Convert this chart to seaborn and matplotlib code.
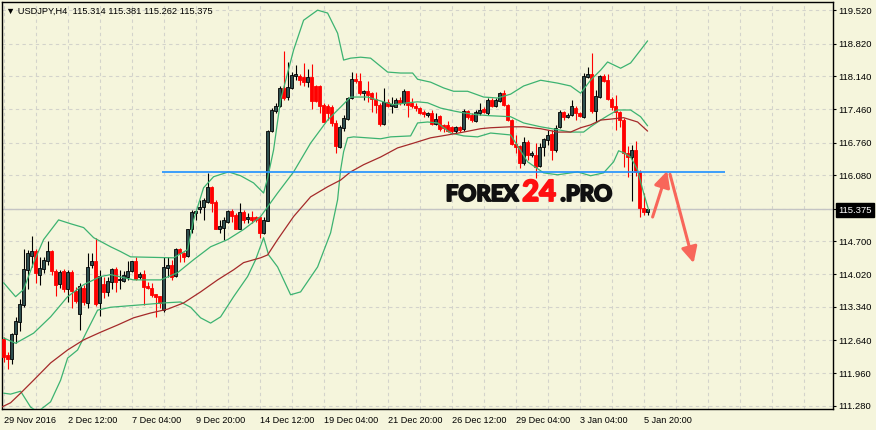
import numpy as np
import pandas as pd
import seaborn as sns
import matplotlib.pyplot as plt
import matplotlib.patheffects as pe

# ## USDJPY H4 candles, 29 Nov 2016 .. 6 Jan 2017
opens = [112.67, 112.33, 112.25, 112.77, 113.02, 113.38, 114.11, 114.40, 114.51, 114.01,
         114.13, 114.30, 114.51, 114.09, 113.82, 114.09, 113.72, 114.07, 113.67, 113.19,
         113.74, 113.42, 114.20, 114.30, 113.42, 113.82, 113.65, 113.86, 114.13, 113.90,
         113.88, 113.97, 114.09, 114.30, 113.95, 114.03, 113.78, 113.74, 113.61, 113.57,
         113.27, 114.15, 114.22, 113.99, 114.55, 114.45, 114.40, 114.95, 115.30, 115.38,
         115.42, 115.53, 115.84, 115.53, 114.97, 114.99, 115.11, 115.34, 115.26, 114.97,
         115.32, 115.17, 115.22, 115.20, 115.20, 114.88, 115.13, 117.00, 117.42, 117.53,
         117.90, 117.71, 117.90, 118.15, 118.15, 118.13, 118.02, 118.13, 117.94, 117.94,
         117.55, 117.53, 117.50, 117.17, 116.67, 117.07, 117.25, 117.69, 118.08, 118.04,
         117.79, 117.83, 117.79, 117.67, 117.55, 117.15, 117.61, 117.53, 117.50, 117.65,
         117.59, 117.83, 117.59, 117.53, 117.48, 117.40, 117.34, 117.38, 117.15, 117.32,
         117.13, 117.13, 117.09, 117.00, 117.09, 117.05, 117.42, 117.34, 117.21, 117.38,
         117.46, 117.38, 117.65, 117.53, 117.63, 117.79, 117.55, 117.23, 116.73, 116.69,
         116.34, 116.77, 116.50, 116.50, 116.27, 116.67, 116.82, 116.94, 116.61, 117.09,
         117.40, 117.30, 117.34, 117.48, 117.38, 117.30, 118.13, 118.19, 117.42, 117.71,
         118.15, 118.06, 117.67, 117.53, 117.40, 117.23, 116.55, 116.46, 116.61, 116.15,
         115.40, 115.314]
highs = [112.71, 112.40, 112.79, 113.13, 113.51, 114.55, 114.53, 114.82, 114.55, 114.38,
         114.38, 114.72, 114.53, 114.13, 114.11, 114.13, 114.11, 114.11, 113.76, 113.84,
         113.80, 114.47, 114.47, 114.78, 114.11, 113.97, 113.95, 114.15, 114.17, 114.11,
         114.09, 114.30, 114.30, 114.38, 114.07, 114.11, 113.86, 113.84, 113.61, 113.57,
         114.38, 114.38, 114.32, 114.57, 114.57, 114.49, 114.97, 115.36, 115.36, 115.57,
         115.61, 116.13, 115.86, 115.57, 115.15, 115.22, 115.36, 115.38, 115.30, 115.51,
         115.36, 115.30, 115.34, 115.24, 115.22, 115.20, 117.03, 117.48, 117.59, 117.94,
         118.67, 118.44, 118.23, 118.38, 118.19, 118.42, 118.29, 118.40, 117.96, 117.96,
         117.59, 117.57, 117.55, 117.23, 117.13, 117.34, 117.71, 118.23, 118.21, 118.21,
         117.85, 118.04, 117.81, 117.81, 117.59, 117.90, 117.67, 117.71, 117.69, 117.71,
         117.88, 117.83, 117.69, 117.59, 117.50, 117.44, 117.40, 117.44, 117.38, 117.34,
         117.15, 117.21, 117.11, 117.11, 117.11, 117.46, 117.44, 117.38, 117.44, 117.59,
         117.50, 117.69, 117.69, 117.69, 117.81, 117.85, 117.57, 117.25, 116.92, 116.71,
         116.88, 116.82, 116.59, 116.75, 116.75, 116.86, 117.03, 117.03, 117.13, 117.44,
         117.42, 117.38, 117.65, 117.53, 117.40, 118.21, 118.33, 118.63, 117.85, 118.17,
         118.19, 118.19, 117.71, 117.75, 117.42, 117.28, 116.69, 116.71, 116.80, 116.19,
         115.71, 115.381]
lows = [112.19, 112.04, 112.15, 112.58, 112.83, 113.33, 113.70, 114.17, 113.84, 113.80,
        114.05, 114.22, 114.01, 113.57, 113.74, 113.65, 113.44, 113.31, 113.42, 112.86,
        113.38, 113.31, 114.15, 113.36, 113.15, 113.53, 113.57, 113.70, 113.65, 113.70,
        113.86, 113.90, 114.07, 113.90, 113.92, 113.38, 113.70, 113.55, 113.13, 113.31,
        113.23, 113.97, 113.90, 113.95, 114.28, 114.28, 114.38, 114.88, 115.15, 115.30,
        115.15, 115.51, 115.32, 114.95, 114.88, 114.74, 115.09, 115.11, 114.95, 114.95,
        115.09, 115.09, 115.09, 115.11, 114.78, 114.86, 115.13, 116.98, 117.38, 117.50,
        117.65, 117.65, 117.88, 118.06, 117.96, 117.94, 117.92, 117.46, 117.61, 117.38,
        117.19, 117.23, 117.11, 116.55, 116.65, 117.00, 117.23, 117.67, 118.00, 117.75,
        117.65, 117.61, 117.40, 117.38, 117.11, 117.13, 117.50, 117.38, 117.50, 117.55,
        117.55, 117.30, 117.48, 117.42, 117.36, 117.30, 117.30, 117.13, 117.13, 117.00,
        116.98, 116.98, 116.96, 116.96, 116.98, 117.00, 117.25, 117.19, 117.19, 117.34,
        117.38, 117.34, 117.50, 117.50, 117.61, 117.53, 117.21, 116.71, 116.55, 116.23,
        116.30, 116.40, 116.46, 116.02, 116.25, 116.48, 116.71, 116.40, 116.57, 117.07,
        117.23, 117.28, 117.32, 117.23, 117.30, 117.28, 118.10, 117.38, 117.19, 117.69,
        118.02, 117.65, 117.44, 117.03, 117.09, 116.25, 116.05, 115.55, 116.07, 115.21,
        115.26, 115.262]
closes = [112.29, 112.25, 112.77, 113.04, 113.40, 114.13, 114.47, 114.51, 114.05, 114.15,
          114.32, 114.51, 114.09, 113.80, 114.07, 113.72, 114.07, 113.67, 113.46, 113.78,
          113.44, 114.17, 114.30, 113.40, 113.99, 113.65, 113.88, 114.13, 113.86, 113.90,
          114.01, 114.09, 114.30, 113.92, 114.03, 113.76, 113.74, 113.59, 113.55, 113.42,
          114.17, 114.20, 113.97, 114.55, 114.45, 114.38, 114.97, 115.32, 115.34, 115.42,
          115.57, 115.84, 115.51, 114.97, 115.03, 115.15, 115.34, 115.24, 114.95, 115.32,
          115.15, 115.22, 115.15, 115.15, 114.88, 115.15, 117.00, 117.44, 117.53, 117.90,
          117.69, 117.92, 118.17, 118.19, 118.06, 118.02, 118.13, 117.63, 117.63, 117.53,
          117.19, 117.38, 117.17, 116.69, 117.09, 117.28, 117.69, 118.08, 118.04, 117.79,
          117.83, 117.75, 117.67, 117.55, 117.15, 117.61, 117.53, 117.57, 117.65, 117.59,
          117.83, 117.55, 117.53, 117.48, 117.38, 117.36, 117.38, 117.15, 117.25, 117.05,
          117.07, 117.00, 117.00, 117.09, 117.03, 117.42, 117.30, 117.23, 117.40, 117.44,
          117.40, 117.65, 117.53, 117.65, 117.79, 117.55, 117.23, 116.73, 116.67, 116.34,
          116.77, 116.50, 116.55, 116.25, 116.67, 116.84, 116.92, 116.61, 117.07, 117.40,
          117.30, 117.34, 117.53, 117.38, 117.32, 118.15, 118.19, 117.42, 117.73, 118.15,
          118.04, 117.67, 117.50, 117.40, 117.23, 116.55, 116.46, 116.61, 116.15, 115.40,
          115.32, 115.375]

# Bollinger bands and moving average, sampled along the bars
ub_pos = [0, 3, 5, 7.5, 10, 13.75, 16.75, 20, 22.5, 26.75, 29.25, 31.75, 42.5, 46, 47.5,
          50, 52.5, 56.25, 59.25, 62.5, 65, 66, 67.5, 69.25, 72.5, 75, 78.5, 81, 83.5, 85,
          86.75, 89.25, 91.75, 96, 99.25, 102.25, 103.5, 106.75, 110, 112.5, 116, 120, 123.5,
          126.75, 130, 134.25, 138.5, 141.75, 144.25, 146.75, 149.25, 151, 154.25, 156.75,
          159.25, 161]
ub_val = [113.84, 113.55, 113.70, 114.26, 114.74, 115.15, 115.07, 114.99, 114.78, 114.59,
          114.49, 114.38, 114.36, 114.53, 115.15, 115.82, 116.05, 116.15, 116.07, 115.92,
          115.71, 116.02, 116.61, 117.65, 118.69, 119.31, 119.52, 119.46, 119.04, 118.48,
          118.52, 118.54, 118.52, 118.23, 118.21, 118.21, 118.08, 118.02, 117.90, 117.83,
          117.83, 117.71, 117.69, 117.77, 117.94, 118.06, 118.00, 117.94, 117.79, 118.06,
          118.27, 118.44, 118.31, 118.42, 118.69, 118.88]
mb_pos = [0, 3, 7.5, 11.75, 16, 20, 24.25, 26.75, 32.5, 39.25, 43.5, 47.5, 51.75, 56, 60,
          64.25, 68.5, 72.5, 76.75, 81, 84.25, 86.75, 91, 95, 97.5, 101, 103.5, 106, 109.25,
          112.5, 115, 118.5, 121.75, 126.75, 130, 134.25, 138.5, 141.75, 145, 146.75, 149.25,
          151, 153.5, 156.75, 159.25, 161]
mb_val = [112.69, 112.58, 112.79, 113.13, 113.55, 113.80, 113.97, 114.01, 113.90, 113.90,
          114.05, 114.32, 114.59, 114.74, 114.95, 115.22, 115.71, 116.15, 116.75, 117.23,
          117.50, 117.71, 117.71, 117.61, 117.55, 117.59, 117.61, 117.59, 117.48, 117.42,
          117.38, 117.34, 117.32, 117.30, 117.17, 117.09, 117.03, 116.98, 116.98, 117.09,
          117.23, 117.32, 117.44, 117.44, 117.30, 117.11]
lb_pos = [0, 1.75, 4.25, 6.75, 8.5, 11.75, 14.25, 16, 18.5, 21, 23.5, 26.75, 34.25, 40,
          44.25, 46.75, 49.25, 51.75, 54.25, 57.5, 61, 63, 65, 66.25, 68.5, 71.75, 74.25,
          78.5, 81.75, 83.5, 84.25, 85, 86, 87.5, 94.25, 96.75, 101.75, 103.5, 106, 108.5,
          111.75, 115, 118.5, 121.75, 126.75, 131, 135, 138.5, 143.5, 146.75, 150, 152.5,
          153.75, 155, 156.75, 158.5, 160, 161.25]
lb_val = [111.54, 111.52, 111.58, 111.25, 111.15, 111.36, 111.81, 112.27, 112.44, 112.86,
          113.27, 113.33, 113.38, 113.42, 113.44, 113.33, 113.11, 113.00, 113.13, 113.55,
          113.97, 114.32, 114.78, 114.42, 114.17, 113.59, 113.65, 114.17, 114.88, 115.57,
          116.19, 116.57, 116.86, 116.88, 116.84, 116.88, 116.90, 117.17, 117.19, 117.17,
          116.96, 116.90, 116.88, 116.96, 116.92, 116.36, 116.13, 116.09, 116.15, 116.07,
          116.13, 116.36, 116.59, 116.55, 116.46, 116.19, 115.71, 115.36]
ma_pos = [-0.75, 1.75, 4.25, 7.5, 11.75, 16, 20, 24.25, 28.5, 32.5, 36.75, 41, 45, 49.25,
          53.5, 57.5, 60, 64.25, 66, 68.5, 72.5, 76.75, 81, 84.25, 86.75, 90, 94.25, 98.5,
          102.5, 106.75, 111, 115, 119.25, 121.75, 126.75, 130, 134.25, 138.5, 141.75,
          144.25, 146.75, 149.25, 151.75, 155, 158.5, 161]
ma_val = [111.24, 111.34, 111.54, 111.81, 112.17, 112.44, 112.65, 112.81, 112.96, 113.11,
          113.21, 113.29, 113.42, 113.65, 113.90, 114.11, 114.26, 114.36, 114.42, 114.74,
          115.22, 115.63, 115.84, 115.98, 116.15, 116.30, 116.46, 116.65, 116.75, 116.86,
          116.92, 116.98, 117.05, 117.07, 117.09, 117.09, 117.05, 116.98, 116.98, 117.07,
          117.13, 117.23, 117.25, 117.28, 117.19, 117.00]

# support level and forecast arrows (bar index, price)
level_price = 116.14
level_span = [39.5, 180.25]
arrow_from = [(162.25, 115.21), (166.6, 116.10)]
arrow_to = [(165.9, 116.17), (172.5, 114.25)]

xtick_pos = [0, 16, 32, 48, 64, 80, 96, 112, 128, 144, 160]
xtick_labels = ['29 Nov 2016', '2 Dec 12:00', '7 Dec 04:00', '9 Dec 20:00', '14 Dec 12:00',
                '19 Dec 04:00', '21 Dec 20:00', '26 Dec 12:00', '29 Dec 04:00', '3 Jan 04:00',
                '5 Jan 20:00']
ytick_vals = [119.52, 118.82, 118.14, 117.46, 116.76, 116.08, 115.375, 114.70, 114.02,
              113.34, 112.64, 111.96, 111.28]
last_price = 115.375

sns.set_style('white')
plt.rcParams['font.family'] = ['Liberation Sans', 'DejaVu Sans']

bg = '#F5F5DC'
fig = plt.figure(figsize=(8.76, 4.30), dpi=100, facecolor=bg)
ax = fig.add_axes([2 / 876, 1 - 409 / 430, 831 / 876, 407 / 430], facecolor=bg)

df = pd.DataFrame({'open': opens, 'high': highs, 'low': lows, 'close': closes})
df['bar'] = np.arange(len(df))
up = df.close >= df.open
body = (df.close - df.open).abs().clip(lower=0.012)
bottom = df[['open', 'close']].min(axis=1)

# price line under everything
ax.axhline(last_price, color='#C4C4C4', lw=1.0, zorder=1)

ax.vlines(df.bar[up], df.low[up], df.high[up], color='black', lw=0.8, zorder=3)
ax.vlines(df.bar[~up], df.low[~up], df.high[~up], color='red', lw=0.8, zorder=3)
ax.bar(df.bar[up], body[up], bottom=bottom[up], width=0.7, color='#2F4F4F',
       edgecolor='black', linewidth=0.6, zorder=4)
ax.bar(df.bar[~up], body[~up], bottom=bottom[~up], width=0.7, color='red',
       edgecolor='red', linewidth=0.6, zorder=4)

band_col = '#3CB371'
for pos, val in [(ub_pos, ub_val), (mb_pos, mb_val), (lb_pos, lb_val)]:
    sns.lineplot(x=pos, y=val, ax=ax, color=band_col, lw=0.9, sort=False,
                 estimator=None, zorder=5)
sns.lineplot(x=ma_pos, y=ma_val, ax=ax, color='#A52A2A', lw=0.9, sort=False,
             estimator=None, zorder=5)

ax.hlines(level_price, level_span[0], level_span[1], color='#1E90FF', lw=1.2, zorder=6)

for a, b in zip(arrow_from, arrow_to):
    ax.annotate('', xy=b, xytext=a, zorder=7,
                arrowprops=dict(arrowstyle='-|>,head_length=0.8,head_width=0.4',
                                color='#F8665A', lw=2.2, mutation_scale=12,
                                shrinkA=0, shrinkB=0))

# watermark
wm = dict(transform=ax.transAxes, va='baseline', ha='left', fontweight='black',
          family=['Lato', 'DejaVu Sans'], zorder=8)
for x, txt, size, col in [(0.534, 'FOREX', 16, '#111111'), (0.626, '24', 21, '#FF1010'),
                          (0.672, '.PRO', 16, '#111111')]:
    t = ax.text(x, 0.511, txt, fontsize=size, color=col, **wm)
    t.set_path_effects([pe.withStroke(linewidth=1.3, foreground=col)])

ax.text(0.005, 0.978, '▼ USDJPY,H4  115.314 115.381 115.262 115.375',
        transform=ax.transAxes, fontsize=6.7, va='center', ha='left', color='black')

ax.set_xlim(-0.4, 207.35)
ax.set_ylim(111.21, 119.69)

ax.set_xticks(xtick_pos)
ax.set_xticklabels(xtick_labels, ha='left')
ax.set_xticks(np.arange(0, 208, 8), minor=True)
ax.yaxis.tick_right()
ax.set_yticks(ytick_vals)
ax.set_yticklabels([f'{v:.3f}' for v in ytick_vals])

grid_kw = dict(color='#D3D3CB', ls=(0, (3, 3)), lw=0.8)
ax.grid(True, which='both', axis='x', **grid_kw)
ax.grid(True, which='major', axis='y', **grid_kw)
ax.set_axisbelow(True)

ax.tick_params(axis='y', which='major', direction='out', length=2.2, width=0.8, pad=1.5,
               labelsize=6.8, colors='black')
ax.tick_params(axis='x', which='major', direction='out', length=2.2, width=0.8, pad=2.5,
               labelsize=6.6, colors='black')
ax.tick_params(axis='x', which='minor', length=0)

# current price tag on the axis
lbl = ax.get_yticklabels()[ytick_vals.index(last_price)]
lbl.set_color('white')
lbl.set_bbox(dict(boxstyle='square,pad=0.25', fc='black', ec='black'))

for s in ax.spines.values():
    s.set_color('black')
    s.set_linewidth(1.0)
ax.set_xlabel('')
ax.set_ylabel('')

fig.savefig('out.png', dpi=100, facecolor=bg)
